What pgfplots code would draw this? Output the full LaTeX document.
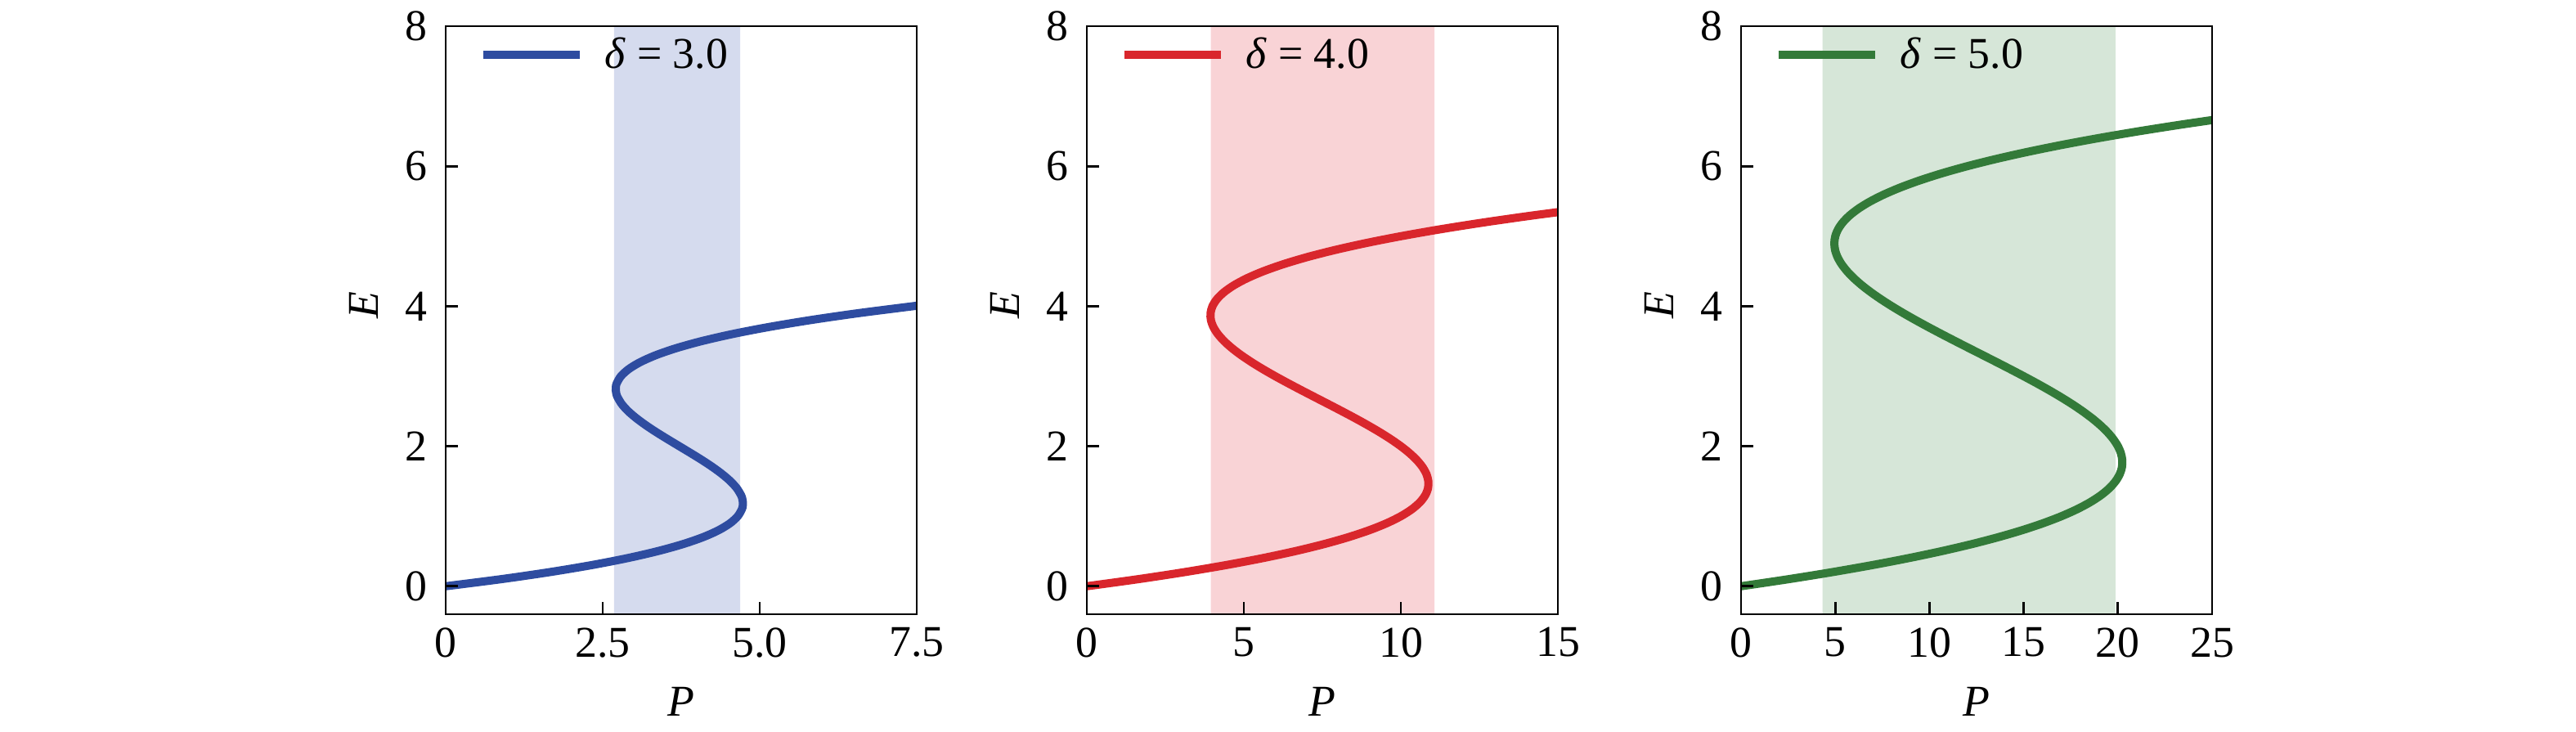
\documentclass[border=0pt]{standalone}
\usepackage{fontspec}
\setmainfont{Liberation Serif}
\usepackage{pgfplots}
\pgfplotsset{compat=1.18}
\definecolor{cblue}{HTML}{2E4CA0}
\definecolor{cred}{HTML}{D9262C}
\definecolor{cgreen}{HTML}{337A39}
\definecolor{bblue}{HTML}{D5DBEE}
\definecolor{bred}{HTML}{F9D3D6}
\definecolor{bgreen}{HTML}{D6E6D8}
\pgfplotsset{
  myax/.style={
    scale only axis, width=57.6mm, height=71.9mm,
    ymin=-0.4, ymax=8, ytick={0,2,4,6,8}, yticklabels={0,2,4,6,8},
    tick align=inside, xtick pos=bottom, ytick pos=left,
    major tick length=1.5mm,
    tick style={black, line width=0.8pt},
    axis line style={black, line width=0.8pt},
    axis on top,
    xlabel={\textit{P}}, ylabel={\textit{E}},
    xlabel style={at={(axis description cs:0.5,-0.149)}, anchor=center, inner sep=0pt},
    ylabel style={at={(axis description cs:-0.174,0.526)}, anchor=center, inner sep=0pt},
    xticklabel style={yshift=-0.4mm},
    yticklabel style={xshift=-1mm},
    legend style={draw=none, fill=none, inner sep=0pt, outer sep=0pt,
      nodes={inner sep=0pt}, column sep=2.6mm,
      at={(axis description cs:0.071,0.951)}, anchor=west},
    legend image code/.code={\draw[##1] (0mm,0mm) -- (11.8mm,0mm);},
  }
}
\begin{document}
\begin{tikzpicture}[font=\fontsize{15.3}{18}\selectfont]
\useasboundingbox (0,0) rectangle (315mm,89.4mm);

% ---------- delta = 3 ----------
\begin{axis}[myax, at={(54.5mm,14.3mm)}, anchor=south west,
  xmin=0, xmax=7.5, xtick={0,2.5,5,7.5}, xticklabels={0,2.5,5.0,7.5}]
\addplot[fill=bblue, draw=none, forget plot] coordinates {(2.68,-0.4) (4.69,-0.4) (4.69,8) (2.68,8)} \closedcycle;
\addplot[cblue, line width=1mm, smooth] coordinates {
(0,0) (0.875,0.1) (1.644,0.2) (2.313,0.3) (2.887,0.4) (3.371,0.5) (3.772,0.6)
(4.095,0.7) (4.345,0.8) (4.528,0.9) (4.650,1.0) (4.716,1.1) (4.730,1.15) (4.732,1.2)
(4.723,1.25) (4.703,1.3) (4.635,1.4) (4.534,1.5) (4.404,1.6) (4.253,1.7) (4.085,1.8)
(3.905,1.9) (3.720,2.0) (3.535,2.1) (3.355,2.2) (3.187,2.3) (3.036,2.4) (2.906,2.5)
(2.805,2.6) (2.737,2.7) (2.717,2.75) (2.708,2.8) (2.710,2.85) (2.724,2.9) (2.790,3.0)
(2.912,3.1) (3.095,3.2) (3.345,3.3) (3.668,3.4) (4.069,3.5) (4.553,3.6) (5.127,3.7)
(5.796,3.8) (6.565,3.9) (7.440,4.0) (7.534,4.01)};
\addlegendentry{\textit{δ} = 3.0}
\end{axis}

% ---------- delta = 4 ----------
\begin{axis}[myax, at={(132.9mm,14.3mm)}, anchor=south west,
  xmin=0, xmax=15, xtick={0,5,10,15}, xticklabels={0,5,10,15}]
\addplot[fill=bred, draw=none, forget plot] coordinates {(3.95,-0.4) (11.07,-0.4) (11.07,8) (3.95,8)} \closedcycle;
\addplot[cred, line width=1mm, smooth] coordinates {
(0,0) (1.621,0.1) (3.088,0.2) (4.407,0.3) (5.584,0.4) (6.625,0.5) (7.536,0.6)
(8.323,0.7) (8.992,0.8) (9.549,0.9) (10.000,1.0) (10.351,1.1) (10.608,1.2) (10.777,1.3)
(10.864,1.4) (10.875,1.5) (10.816,1.6) (10.693,1.7) (10.512,1.8) (10.279,1.9) (10.000,2.0)
(9.681,2.1) (9.328,2.2) (8.947,2.3) (8.544,2.4) (8.125,2.5) (7.696,2.6) (7.263,2.7)
(6.832,2.8) (6.409,2.9) (6.000,3.0) (5.611,3.1) (5.248,3.2) (4.917,3.3) (4.624,3.4)
(4.375,3.5) (4.176,3.6) (4.033,3.7) (3.952,3.8) (3.939,3.9) (4.000,4.0) (4.141,4.1)
(4.368,4.2) (4.687,4.3) (5.104,4.4) (5.625,4.5) (6.256,4.6) (7.003,4.7) (7.872,4.8)
(8.869,4.9) (10.000,5.0) (11.271,5.1) (12.688,5.2) (14.257,5.3) (15.984,5.4)};
\addlegendentry{\textit{δ} = 4.0}
\end{axis}

% ---------- delta = 5 ----------
\begin{axis}[myax, at={(212.9mm,14.3mm)}, anchor=south west,
  xmin=0, xmax=25, xtick={0,5,10,15,20,25}, xticklabels={0,5,10,15,20,25}]
\addplot[fill=bgreen, draw=none, forget plot] coordinates {(4.32,-0.4) (19.87,-0.4) (19.87,8) (4.32,8)} \closedcycle;
\addplot[cgreen, line width=1mm, smooth] coordinates {
(0,0) (2.501,0.1) (4.808,0.2) (6.927,0.3) (8.864,0.4) (10.625,0.5) (12.216,0.6)
(13.643,0.7) (14.912,0.8) (16.029,0.9) (17.000,1.0) (17.831,1.1) (18.528,1.2) (19.097,1.3)
(19.544,1.4) (19.875,1.5) (20.096,1.6) (20.213,1.7) (20.232,1.8) (20.159,1.9) (20.000,2.0)
(19.761,2.1) (19.448,2.2) (19.067,2.3) (18.624,2.4) (18.125,2.5) (17.576,2.6) (16.983,2.7)
(16.352,2.8) (15.689,2.9) (15.000,3.0) (14.291,3.1) (13.568,3.2) (12.837,3.3) (12.104,3.4)
(11.375,3.5) (10.656,3.6) (9.953,3.7) (9.272,3.8) (8.619,3.9) (8.000,4.0) (7.421,4.1)
(6.888,4.2) (6.407,4.3) (5.984,4.4) (5.625,4.5) (5.336,4.6) (5.123,4.7) (4.992,4.8)
(4.949,4.9) (5.000,5.0) (5.151,5.1) (5.408,5.2) (5.777,5.3) (6.264,5.4) (6.875,5.5)
(7.616,5.6) (8.493,5.7) (9.512,5.8) (10.679,5.9) (12.000,6.0) (13.481,6.1) (15.128,6.2)
(16.947,6.3) (18.944,6.4) (21.125,6.5) (23.496,6.6) (26.063,6.7)};
\addlegendentry{\textit{δ} = 5.0}
\end{axis}
\end{tikzpicture}
\end{document}
